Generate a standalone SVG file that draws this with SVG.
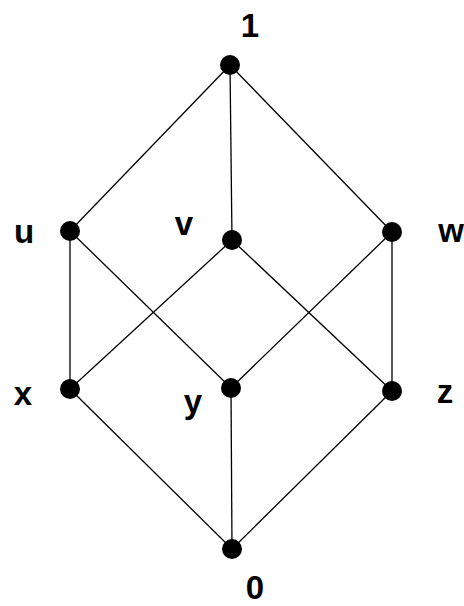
<svg xmlns="http://www.w3.org/2000/svg" width="464" height="606" viewBox="0 0 464 606">
<style>
.e{stroke:#000;stroke-width:1.3;fill:none}
.n{fill:#000}
.t{font-family:"Liberation Sans",Arial,sans-serif;font-weight:bold;font-size:33px;fill:#000;text-anchor:middle}
</style>
<rect width="464" height="606" fill="#fff"/>
<g id="connectors">
<line class="e" x1="230" y1="65" x2="70" y2="231"/>
<line class="e" x1="230" y1="65" x2="232" y2="240"/>
<line class="e" x1="230" y1="65" x2="392" y2="232"/>
<line class="e" x1="70" y1="231" x2="70" y2="389"/>
<line class="e" x1="70" y1="231" x2="231" y2="388"/>
<line class="e" x1="232" y1="240" x2="70" y2="389"/>
<line class="e" x1="232" y1="240" x2="392" y2="391"/>
<line class="e" x1="392" y1="232" x2="231" y2="388"/>
<line class="e" x1="392" y1="232" x2="392" y2="391"/>
<line class="e" x1="70" y1="389" x2="232" y2="549"/>
<line class="e" x1="231" y1="388" x2="232" y2="549"/>
<line class="e" x1="392" y1="391" x2="232" y2="549"/>
</g>
<g id="n1"><circle class="n" cx="230" cy="65" r="10"/><text class="t" x="250" y="37">1</text></g>
<g id="nu"><circle class="n" cx="70" cy="231" r="10"/><text class="t" x="24" y="243">u</text></g>
<g id="nv"><circle class="n" cx="232" cy="240" r="10"/><text class="t" x="184" y="235">v</text></g>
<g id="nw"><circle class="n" cx="392" cy="232" r="10"/><text class="t" x="451" y="242">w</text></g>
<g id="nx"><circle class="n" cx="70" cy="389" r="10"/><text class="t" x="23" y="405">x</text></g>
<g id="ny"><circle class="n" cx="231" cy="388" r="10"/><text class="t" x="193" y="413">y</text></g>
<g id="nz"><circle class="n" cx="392" cy="391" r="10"/><text class="t" x="445" y="403">z</text></g>
<g id="n0"><circle class="n" cx="232" cy="549" r="10"/><text class="t" x="255" y="599">0</text></g>
</svg>
